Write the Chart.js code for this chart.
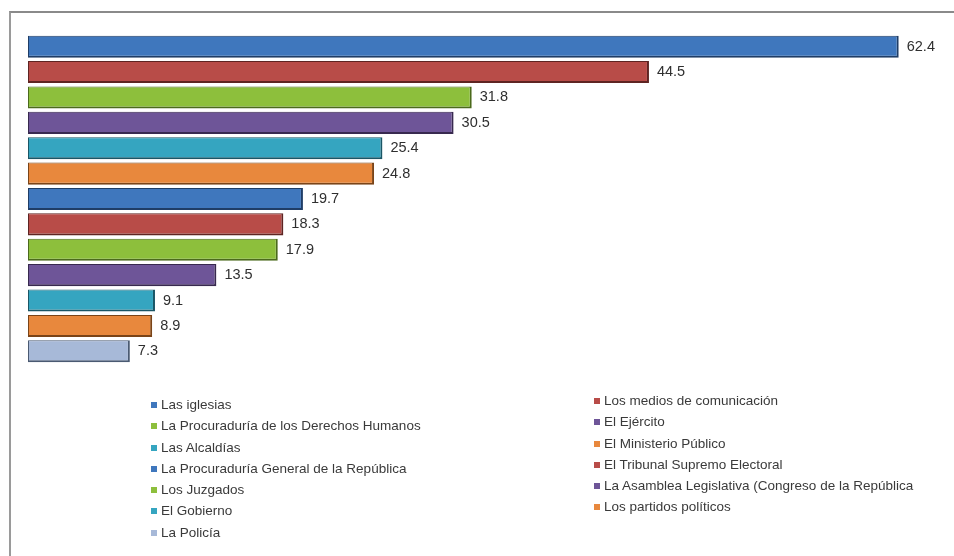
<!DOCTYPE html>
<html>
<head>
<meta charset="utf-8">
<script src="https://cdn.jsdelivr.net/npm/chart.js@4"></script>
<style>
    body { margin: 0; background: #fff; font-family: "Liberation Sans", Arial, sans-serif; }
    #marco { position: absolute; left: 9px; top: 11px; width: 945px; height: 545px;
             border-top: 2px solid #8a8a8a; border-left: 2px solid #9a9a9a; }
    #lienzo { position: absolute; left: 0; top: 0; }
    .leyenda { position: absolute; font-size: 13.5px; color: #3a3a3a; }
    .leyenda div { height: 21.3px; line-height: 21.3px; white-space: nowrap; }
    .leyenda span { display: inline-block; width: 6px; height: 6px; margin-right: 4px; vertical-align: 1px; }
</style>
</head>
<body>
<div id="marco"></div>
<canvas id="lienzo" width="954" height="556"></canvas>
<div class="leyenda" id="leyIzq" style="left:151px; top:394px;"></div>
<div class="leyenda" id="leyDer" style="left:594px; top:390px;"></div>
<script>
// instituciones, en el orden de las barras
var instituciones = [
    "Las iglesias",
    "Los medios de comunicación",
    "La Procuraduría de los Derechos Humanos",
    "El Ejército",
    "Las Alcaldías",
    "El Ministerio Público",
    "La Procuraduría General de la República",
    "El Tribunal Supremo Electoral",
    "Los Juzgados",
    "La Asamblea Legislativa (Congreso de la República",
    "El Gobierno",
    "Los partidos políticos",
    "La Policía"
];
var porcentajes = [62.4, 44.5, 31.8, 30.5, 25.4, 24.8, 19.7, 18.3, 17.9, 13.5, 9.1, 8.9, 7.3];

var colores = ['#3f77bd', '#b84c48', '#8dbf3c', '#6e5598', '#35a5c0', '#e8883d',
               '#3f77bd', '#b84c48', '#8dbf3c', '#6e5598', '#35a5c0', '#e8883d', '#a7b9d8'];
var bordes = ['#1f3d66', '#5e2422', '#4b6a1c', '#38294f', '#1a5666', '#7a4418',
              '#1f3d66', '#5e2422', '#4b6a1c', '#38294f', '#1a5666', '#7a4418', '#4a5a72'];

// etiquetas con el valor al final de cada barra
const etiquetasValor = {
    id: 'etiquetasValor',
    afterDatasetsDraw: function (chart) {
        var ctx = chart.ctx;
        var meta = chart.getDatasetMeta(0);
        ctx.save();
        ctx.font = '14.5px "Liberation Sans", Arial, sans-serif';
        ctx.fillStyle = '#2f2f2f';
        ctx.textBaseline = 'middle';
        ctx.textAlign = 'left';
        meta.data.forEach(function (barra, i) {
            ctx.fillText(porcentajes[i].toFixed(1), barra.x + 8, barra.y);
        });
        ctx.restore();
    }
};

const grafico = new Chart('lienzo', {
    type: 'bar',
    data: {
        labels: instituciones,
        datasets: [{
            data: porcentajes,
            backgroundColor: colores,
            borderColor: bordes,
            borderWidth: { top: 1, left: 1, right: 2, bottom: 2 },
            borderSkipped: false,
            categoryPercentage: 0.87,
            barPercentage: 1
        }]
    },
    options: {
        indexAxis: 'y',
        responsive: false,
        animation: false,
        layout: { padding: { left: 28, top: 34, right: 19, bottom: 192 } },
        plugins: {
            legend: { display: false },
            tooltip: { enabled: false }
        },
        scales: {
            x: { display: false, min: 0, max: 65 },
            y: { display: false }
        }
    },
    plugins: [etiquetasValor]
});

// leyenda en dos columnas, se llena por filas como en el original
var izq = document.getElementById('leyIzq');
var der = document.getElementById('leyDer');
instituciones.forEach(function (nombre, i) {
    var fila = document.createElement('div');
    var cuadro = document.createElement('span');
    cuadro.style.background = colores[i];
    fila.appendChild(cuadro);
    fila.appendChild(document.createTextNode(nombre));
    (i % 2 == 0 ? izq : der).appendChild(fila);
});
</script>
</body>
</html>
